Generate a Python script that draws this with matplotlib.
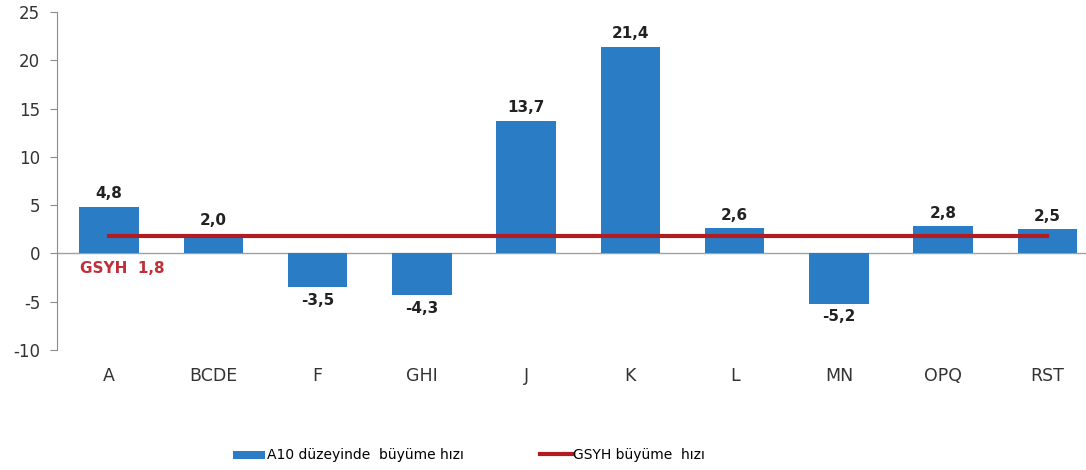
import matplotlib.pyplot as plt
import numpy as np

# data
categories = ["A", "BCDE", "F", "GHI", "J", "K", "L", "MN", "OPQ", "RST"]
growth = [4.8, 2.0, -3.5, -4.3, 13.7, 21.4, 2.6, -5.2, 2.8, 2.5]
gdp_growth = 1.8
gdp_line = [gdp_growth] * len(categories)

plt.rcParams['font.family'] = ['DejaVu Sans']
plt.rcParams['axes.unicode_minus'] = False

fig = plt.figure(figsize=(10.86, 4.70), dpi=100)
ax = fig.add_axes([0.0525, 0.2553, 0.960, 0.719])

x = np.arange(len(categories))
bars = ax.bar(x, growth, width=0.57, color='#2a7cc5', zorder=2)
line, = ax.plot(x, gdp_line, color='#b01c22', linewidth=3, zorder=3)

ax.set_xlim(-0.5, 9.5)
ax.set_ylim(-10, 25)
ax.set_yticks(np.arange(-10, 26, 5))
ax.set_xticks(x)
ax.set_xticklabels(categories)

for s in ['top', 'right', 'bottom']:
    ax.spines[s].set_visible(False)
ax.spines['left'].set_color('#8c8c8c')
ax.axhline(0, color='#a0a0a0', linewidth=1, zorder=1)
ax.tick_params(axis='y', colors='#8c8c8c', labelcolor='#333333', labelsize=12,
               length=5, direction='out', pad=7)
ax.tick_params(axis='x', length=0, labelsize=12.5, labelcolor='#333333', pad=12)

# value labels
for xi, v in zip(x, growth):
    lbl = f"{v:.1f}".replace('.', ',')
    if v >= 0:
        ax.text(xi, v + 0.6, lbl, ha='center', va='bottom', fontsize=11,
                fontweight='bold', color='#222222')
    else:
        ax.text(xi, v - 0.6, lbl, ha='center', va='top', fontsize=11,
                fontweight='bold', color='#222222')

ax.text(-0.28, -1.6, "GSYH  " + f"{gdp_growth:.1f}".replace('.', ','),
        ha='left', va='center', fontsize=11, fontweight='bold', color='#c0303a')

leg = fig.legend([bars, line], ['A10 düzeyinde  büyüme hızı', 'GSYH büyüme  hızı'],
                 loc='center', bbox_to_anchor=(0.432, 0.032), ncol=2,
                 frameon=False, fontsize=10, columnspacing=5.5,
                 handlelength=2.3, handletextpad=0.1)
for h in leg.legend_handles:
    if hasattr(h, 'set_height'):
        h.set_height(6)

fig.savefig('out.png', dpi=100)
